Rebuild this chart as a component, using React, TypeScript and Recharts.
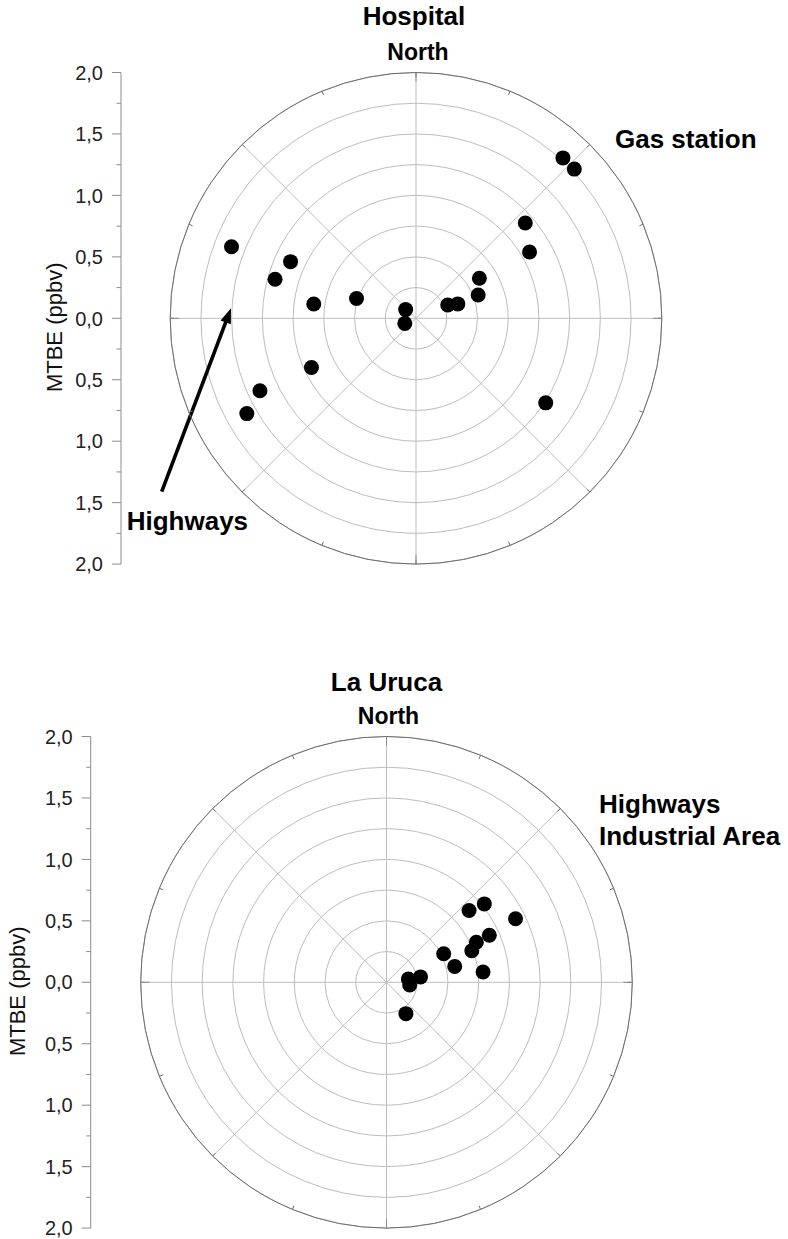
import {
  RadarChart,
  PolarGrid,
  PolarAngleAxis,
  PolarRadiusAxis,
  Radar,
  ScatterChart,
  XAxis,
  YAxis,
  Customized,
} from 'recharts';

const FONT = '"Liberation Sans", Arial, Helvetica, sans-serif';

// Hospital: wind direction (deg from North, clockwise) and MTBE (ppbv)
const hospitalDirection = [291.2, 294.3, 285.5, 278.0, 288.4, 310.0, 245.6, 67.2, 71.0, 69.5, 57.7, 42.5, 46.7, 48.9, 59.7, 244.8, 245.1, 240.6, 123.1];
const hospitalMtbe = [1.61, 1.12, 1.19, 0.84, 0.51, 0.11, 0.1, 0.28, 0.36, 0.54, 0.61, 1.77, 1.77, 1.18, 1.07, 0.94, 1.4, 1.58, 1.26];

// La Uruca
const urucaDirection = [49.0, 51.3, 63.8, 65.4, 66.0, 69.7, 63.5, 76.9, 83.9, 81.0, 81.4, 96.8, 148.2];
const urucaMtbe = [0.89, 1.02, 1.17, 0.92, 0.8, 0.74, 0.52, 0.57, 0.79, 0.28, 0.18, 0.19, 0.3];

// left scale runs 2,0 .. 0,0 .. 2,0 with minor ticks every 0.25
const scaleTicks = [2, 1.75, 1.5, 1.25, 1, 0.75, 0.5, 0.25, 0, -0.25, -0.5, -0.75, -1, -1.25, -1.5, -1.75, -2];
const ringValues = [0.25, 0.5, 0.75, 1, 1.25, 1.5, 1.75, 2];
const compassTicks = [0, 22.5, 45, 67.5, 90, 112.5, 135, 157.5, 180, 202.5, 225, 247.5, 270, 292.5, 315, 337.5];
const compassMajor = [0, 90, 180, 270];
const spokeAngles = [0, 45, 90, 135, 180, 225, 270, 315];

const hospitalData = hospitalDirection.map((d, i) => ({ direction: d, mtbe: hospitalMtbe[i] }));
const urucaData = urucaDirection.map((d, i) => ({ direction: d, mtbe: urucaMtbe[i] }));

const PANEL_H = 600;
const CY = 318.3;
const R = 245.8;
const MAX = 2;

function AxisTick(props: any) {
  const { x, y, payload } = props;
  const v = payload.value;
  const major = Math.abs(v * 2 - Math.round(v * 2)) < 1e-6;
  return (
    <g>
      <line x1={x - (major ? 9 : 4.5)} x2={x} y1={y} y2={y} stroke="#8c8c8c" />
      {major && (
        <text x={x - 18} y={y} dy="0.36em" textAnchor="end" fontSize={20} fill="#222" fontFamily={FONT}>
          {Math.abs(v).toFixed(1).replace('.', ',')}
        </text>
      )}
    </g>
  );
}

const renderDot = (p: any) => <circle key={`dot-${p.index}`} cx={p.cx} cy={p.cy} r={7.5} fill="#000" />;

function Arrow({ x1, y1, x2, y2 }: { x1: number; y1: number; x2: number; y2: number }) {
  const dx = x2 - x1;
  const dy = y2 - y1;
  const len = Math.hypot(dx, dy);
  const ux = dx / len;
  const uy = dy / len;
  const head = 15;
  const half = 5.5;
  const bx = x2 - ux * head;
  const by = y2 - uy * head;
  return (
    <g>
      <line x1={x1} y1={y1} x2={bx + ux * 2} y2={by + uy * 2} stroke="#000" strokeWidth={3.6} />
      <polygon
        points={`${x2},${y2} ${bx - uy * half},${by + ux * half} ${bx + uy * half},${by - ux * half}`}
        fill="#000"
      />
    </g>
  );
}

function Panel({ top, cx, axisX, labelX, data, notes }: any) {
  return (
    <div style={{ position: 'absolute', left: 0, top, width: 788, height: PANEL_H }}>
      <div style={{ position: 'absolute', left: 0, top: 0 }}>
        <ScatterChart
          width={axisX + 20}
          height={PANEL_H}
          margin={{ top: CY - R, bottom: PANEL_H - CY - R, left: 0, right: 20 }}
        >
          <XAxis type="number" dataKey="x" domain={[0, 1]} allowDataOverflow hide />
          <YAxis
            type="number"
            dataKey="y"
            domain={[-MAX, MAX]}
            allowDataOverflow
            ticks={scaleTicks}
            interval={0}
            width={axisX}
            tickSize={0}
            tickMargin={0}
            tickLine={false}
            axisLine={{ stroke: '#8c8c8c' }}
            tick={(p: any) => <AxisTick {...p} />}
            label={{
              content: (p: any) => {
                const x = (p.viewBox?.x ?? 0) + labelX;
                const y = CY + 9;
                return (
                  <text
                    x={x}
                    y={y}
                    transform={`rotate(-90 ${x} ${y})`}
                    dy="0.36em"
                    textAnchor="middle"
                    fontSize={22}
                    fill="#111"
                    fontFamily={FONT}
                  >
                    MTBE (ppbv)
                  </text>
                );
              },
            }}
          />
        </ScatterChart>
      </div>
      <div style={{ position: 'absolute', left: 0, top: 0 }}>
        <RadarChart
          width={788}
          height={PANEL_H}
          cx={cx}
          cy={CY}
          outerRadius={R}
          innerRadius={0}
          data={data}
          margin={{ top: 0, right: 0, bottom: 0, left: 0 }}
        >
          <PolarGrid
            gridType="circle"
            polarAngles={spokeAngles}
            polarRadius={ringValues.map((v) => (v / MAX) * R)}
            stroke="#bdbdbd"
          />
          <PolarAngleAxis
            dataKey="direction"
            type="number"
            domain={[0, 360]}
            ticks={compassTicks as any}
            axisLineType="circle"
            orientation="inner"
            tickSize={4}
            tick={false}
            axisLine={{ stroke: '#6e6e6e' }}
            tickLine={{ stroke: '#6e6e6e' }}
          />
          <PolarAngleAxis
            angleAxisId="major"
            dataKey="direction"
            type="number"
            domain={[0, 360]}
            ticks={compassMajor as any}
            orientation="inner"
            tickSize={9}
            tick={false}
            axisLine={false}
            tickLine={{ stroke: '#8a8a8a' }}
          />
          <PolarRadiusAxis domain={[0, MAX]} tick={false} axisLine={false} />
          <Radar dataKey="mtbe" fill="none" stroke="none" isAnimationActive={false} dot={renderDot} />
          <Customized component={() => notes(cx, CY)} />
        </RadarChart>
      </div>
    </div>
  );
}

const hospitalNotes = (cx: number, cy: number) => (
  <g fontFamily={FONT} fontWeight="bold" fill="#000">
    <text x={cx - 2} y={cy - 293.3} fontSize={26} textAnchor="middle">Hospital</text>
    <text x={cx + 2} y={cy - 258.3} fontSize={23} textAnchor="middle">North</text>
    <text x={cx + 199} y={cy - 170} fontSize={26}>Gas station</text>
    <text x={cx - 289.3} y={cy + 211.7} fontSize={26}>Highways</text>
    <Arrow x1={cx - 254.3} y1={cy + 173.4} x2={cx - 185} y2={cy - 10} />
  </g>
);

const urucaNotes = (cx: number, cy: number) => (
  <g fontFamily={FONT} fontWeight="bold" fill="#000">
    <text x={cx} y={cy - 291} fontSize={26} textAnchor="middle">La Uruca</text>
    <text x={cx + 2} y={cy - 258.3} fontSize={23} textAnchor="middle">North</text>
    <text x={cx + 212.5} y={cy - 169.3} fontSize={26}>Highways</text>
    <text x={cx + 212.5} y={cy - 136.9} fontSize={26}>Industrial Area</text>
  </g>
);

export default function App() {
  return (
    <div
      style={{
        position: 'absolute',
        left: 0,
        top: 0,
        width: 788,
        height: 1239,
        background: '#fff',
        overflow: 'hidden',
      }}
    >
      <Panel top={318.3 - CY} cx={416} axisX={121} labelX={54} data={hospitalData} notes={hospitalNotes} />
      <Panel top={982.6 - CY} cx={386.5} axisX={90.7} labelX={16.7} data={urucaData} notes={urucaNotes} />
    </div>
  );
}
